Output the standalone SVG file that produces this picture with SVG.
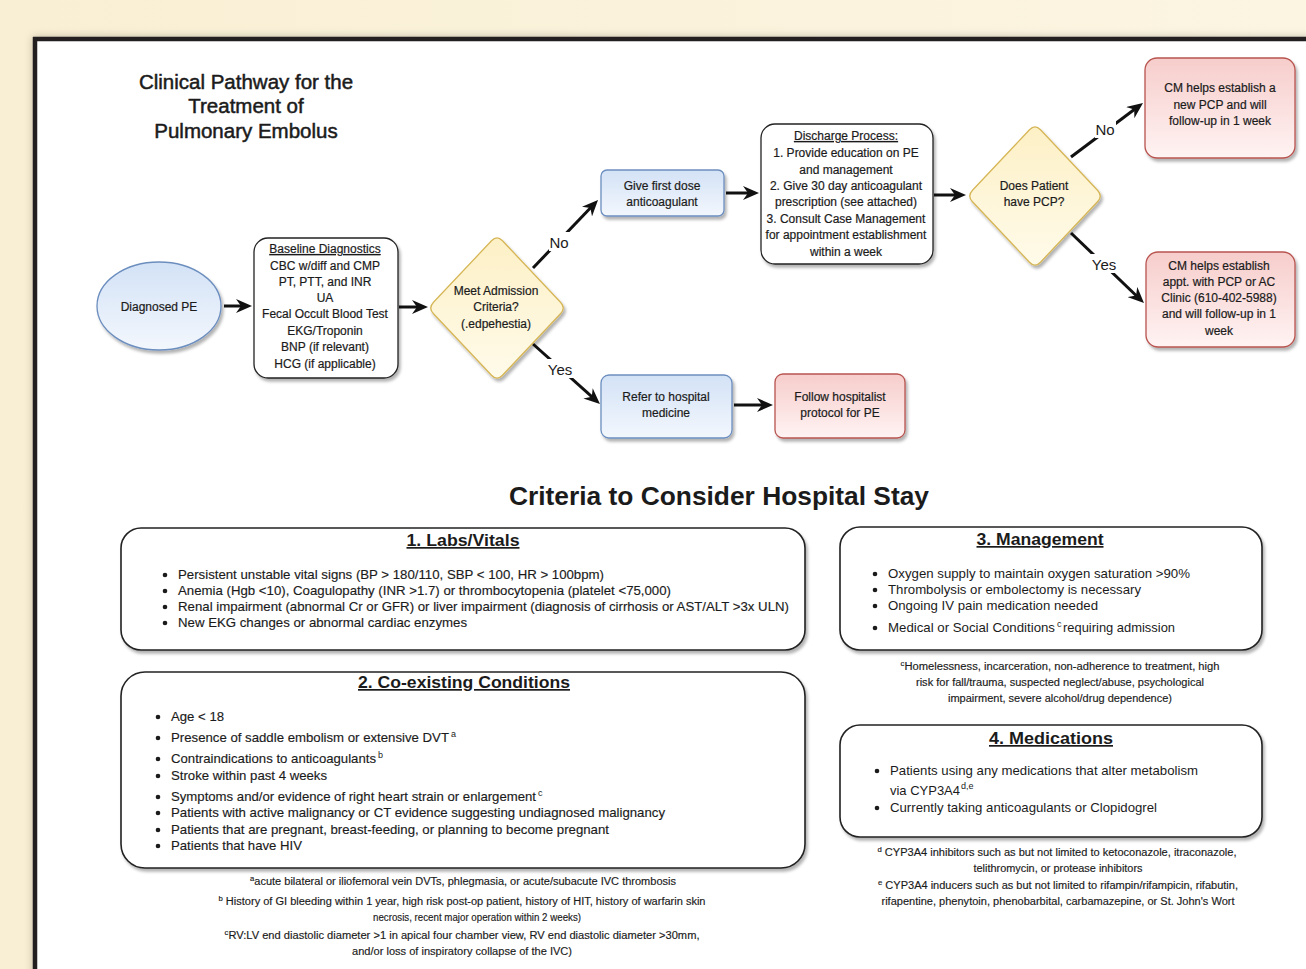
<svg xmlns="http://www.w3.org/2000/svg" width="1306" height="969" viewBox="0 0 1306 969">
<defs>
<style>
.t{font-family:"Liberation Sans",Arial,sans-serif;fill:#1b1b1b}
.f12{font-size:12px;text-anchor:middle;stroke:#1b1b1b;stroke-width:0.2}
.lbl{font-size:15px;text-anchor:middle}
.bl{font-size:13px;stroke:#1b1b1b;stroke-width:0.15}
.bl3{font-size:13.5px}
.sup{font-size:9px}
.fn{font-size:10px;text-anchor:middle;stroke:#1b1b1b;stroke-width:0.15}
.ttl{font-size:17px;font-weight:bold;text-anchor:middle;text-decoration:underline}
.conn{stroke:#111;stroke-width:3;fill:none;marker-end:url(#ah)}
.card{fill:#fff;stroke:#222;stroke-width:1.6;filter:url(#sh)}
.blue{fill:url(#gb);stroke:#6c8ebf;stroke-width:1.3;filter:url(#sh)}
.red{fill:url(#gr);stroke:#b85450;stroke-width:1.3;filter:url(#sh)}
.yel{fill:url(#gy);stroke:#d6b656;stroke-width:1.3;filter:url(#sh)}
.wb{fill:#fff;stroke:#222;stroke-width:1.3;filter:url(#sh)}
.dot{fill:#1b1b1b}
</style>
<marker id="ah" viewBox="0 0 16 14" refX="8" refY="7" markerWidth="16" markerHeight="14" markerUnits="userSpaceOnUse" orient="auto">
<path d="M0,0 L16,7 L0,14 L5,7 z" fill="#111"/>
</marker>
<linearGradient id="gb" x1="0" y1="0" x2="0" y2="1"><stop offset="0" stop-color="#d3e2f6"/><stop offset="1" stop-color="#f3f7fd"/></linearGradient>
<linearGradient id="gr" x1="0" y1="0" x2="0" y2="1"><stop offset="0" stop-color="#f6cdcb"/><stop offset="1" stop-color="#fff3f3"/></linearGradient>
<linearGradient id="gy" x1="0" y1="0" x2="0" y2="1"><stop offset="0" stop-color="#fdf0c6"/><stop offset="1" stop-color="#fffbea"/></linearGradient>
<linearGradient id="gbg" x1="0" y1="0" x2="1" y2="0"><stop offset="0" stop-color="#f9efd4"/><stop offset="1" stop-color="#fcf5e2"/></linearGradient>
<filter id="sh" x="-10%" y="-10%" width="130%" height="130%"><feDropShadow dx="2" dy="3" stdDeviation="1.5" flood-color="#000" flood-opacity="0.3"/></filter>
<filter id="psh" x="-5%" y="-5%" width="110%" height="110%"><feDropShadow dx="-2" dy="-2" stdDeviation="4" flood-color="#000" flood-opacity="0.25"/></filter>
</defs>

<rect x="0" y="0" width="1306" height="969" fill="url(#gbg)"/>
<g id="page">
<rect x="35" y="39" width="1290" height="950" fill="#fff" filter="url(#psh)"/>
<line x1="33" y1="39" x2="1306" y2="39" stroke="#231f20" stroke-width="4.5"/>
<line x1="35" y1="37" x2="35" y2="969" stroke="#231f20" stroke-width="4.5"/>
</g>

<g id="title">
<text class="t" x="246" y="89" font-size="20.5" text-anchor="middle" stroke="#1b1b1b" stroke-width="0.5">Clinical Pathway for the</text>
<text class="t" x="246" y="113" font-size="20.5" text-anchor="middle" stroke="#1b1b1b" stroke-width="0.5">Treatment of</text>
<text class="t" x="246" y="138" font-size="20.5" text-anchor="middle" stroke="#1b1b1b" stroke-width="0.5">Pulmonary Embolus</text>
</g>

<g id="connectors">
<line class="conn" x1="224" y1="306" x2="244" y2="306"/>
<line class="conn" x1="399" y1="307" x2="420" y2="307"/>
<line class="conn" x1="726" y1="193" x2="751" y2="193"/>
<line class="conn" x1="934" y1="195" x2="958" y2="195"/>
<line class="conn" x1="734" y1="405" x2="765" y2="405"/>
<line class="conn" x1="533" y1="268" x2="592.5" y2="205.8"/>
<line class="conn" x1="533" y1="344" x2="594" y2="398.7"/>
<line class="conn" x1="1071" y1="157" x2="1136.6" y2="107.8"/>
<line class="conn" x1="1071" y1="233" x2="1138.2" y2="297.5"/>
<rect x="549" y="232" width="21" height="19" fill="#fff"/>
<text class="t lbl" x="559" y="248">No</text>
<rect x="547" y="359" width="28" height="19" fill="#fff"/>
<text class="t lbl" x="560" y="375">Yes</text>
<rect x="1095" y="119" width="21" height="19" fill="#fff"/>
<text class="t lbl" x="1105" y="135">No</text>
<rect x="1090" y="254" width="28" height="19" fill="#fff"/>
<text class="t lbl" x="1104" y="270">Yes</text>
</g>

<g id="diagnosed-pe">
<ellipse class="blue" cx="159" cy="306" rx="62" ry="44"/>
<text class="t f12" x="159" y="311" font-size="13">Diagnosed PE</text>
</g>

<g id="baseline-diagnostics">
<rect class="wb" x="254" y="238" width="144" height="140" rx="14"/>
<text class="t f12" x="325" y="253" text-decoration="underline">Baseline Diagnostics</text>
<text class="t f12" x="325" y="270">CBC w/diff and CMP</text>
<text class="t f12" x="325" y="286">PT, PTT, and INR</text>
<text class="t f12" x="325" y="302">UA</text>
<text class="t f12" x="325" y="318">Fecal Occult Blood Test</text>
<text class="t f12" x="325" y="335">EKG/Troponin</text>
<text class="t f12" x="325" y="351">BNP (if relevant)</text>
<text class="t f12" x="325" y="368">HCG (if applicable)</text>
</g>

<g id="admission-decision">
<path class="yel" d="M491.5,240.8 Q497,235 502.5,240.8 L560.5,302.2 Q566,308 560.5,313.8 L502.5,375.2 Q497,381 491.5,375.2 L433.5,313.8 Q428,308 433.5,302.2 Z"/>
<text class="t f12" x="496" y="295">Meet Admission</text>
<text class="t f12" x="496" y="311">Criteria?</text>
<text class="t f12" x="496" y="328">(.edpehestia)</text>
</g>

<g id="first-dose">
<rect class="blue" x="601" y="170" width="123" height="46" rx="6"/>
<text class="t f12" x="662" y="190">Give first dose</text>
<text class="t f12" x="662" y="206">anticoagulant</text>
</g>

<g id="discharge-process">
<rect class="wb" x="761" y="124" width="172" height="140" rx="14"/>
<text class="t f12" x="846" y="140" text-decoration="underline">Discharge Process:</text>
<text class="t f12" x="846" y="157">1. Provide education on PE</text>
<text class="t f12" x="846" y="174">and management</text>
<text class="t f12" x="846" y="190">2. Give 30 day anticoagulant</text>
<text class="t f12" x="846" y="206">prescription (see attached)</text>
<text class="t f12" x="846" y="223">3. Consult Case Management</text>
<text class="t f12" x="846" y="239">for appointment establishment</text>
<text class="t f12" x="846" y="256">within a week</text>
</g>

<g id="pcp-decision">
<path class="yel" d="M1029.5,129.8 Q1035,124 1040.5,129.8 L1097.5,190.2 Q1103,196 1097.5,201.8 L1040.5,262.2 Q1035,268 1029.5,262.2 L972.5,201.8 Q967,196 972.5,190.2 Z"/>
<text class="t f12" x="1034" y="190">Does Patient</text>
<text class="t f12" x="1034" y="206">have PCP?</text>
</g>

<g id="new-pcp">
<rect class="red" x="1145" y="58" width="150" height="100" rx="12"/>
<text class="t f12" x="1220" y="92">CM helps establish a</text>
<text class="t f12" x="1220" y="109">new PCP and will</text>
<text class="t f12" x="1220" y="125">follow-up in 1 week</text>
</g>

<g id="appt-pcp">
<rect class="red" x="1146" y="252" width="149" height="95" rx="12"/>
<text class="t f12" x="1219" y="270">CM helps establish</text>
<text class="t f12" x="1219" y="286">appt. with PCP or AC</text>
<text class="t f12" x="1219" y="302">Clinic (610-402-5988)</text>
<text class="t f12" x="1219" y="318">and will follow-up in 1</text>
<text class="t f12" x="1219" y="335">week</text>
</g>

<g id="refer-hospital">
<rect class="blue" x="601" y="375" width="131" height="63" rx="8"/>
<text class="t f12" x="666" y="401">Refer to hospital</text>
<text class="t f12" x="666" y="417">medicine</text>
</g>

<g id="follow-protocol">
<rect class="red" x="775" y="374" width="130" height="64" rx="8"/>
<text class="t f12" x="840" y="401">Follow hospitalist</text>
<text class="t f12" x="840" y="417">protocol for PE</text>
</g>

<g id="criteria-header">
<line x1="97" y1="511" x2="1306" y2="511" stroke="#333" stroke-width="2" filter="url(#sh)"/>
<text class="t" x="509" y="505" font-size="26" font-weight="bold" textLength="420" lengthAdjust="spacingAndGlyphs">Criteria to Consider Hospital Stay</text>
</g>

<g id="labs-vitals">
<rect class="card" x="121" y="528" width="684" height="122" rx="20"/>
<text class="t ttl" x="463" y="546" textLength="113" lengthAdjust="spacingAndGlyphs">1. Labs/Vitals</text>
<circle class="dot" cx="165" cy="575" r="2.3"/><text class="t bl" x="178" y="579" textLength="426" lengthAdjust="spacingAndGlyphs">Persistent unstable vital signs (BP &gt; 180/110, SBP &lt; 100, HR &gt; 100bpm)</text>
<circle class="dot" cx="165" cy="591" r="2.3"/><text class="t bl" x="178" y="595" textLength="493" lengthAdjust="spacingAndGlyphs">Anemia (Hgb &lt;10), Coagulopathy (INR &gt;1.7) or thrombocytopenia (platelet &lt;75,000)</text>
<circle class="dot" cx="165" cy="607" r="2.3"/><text class="t bl" x="178" y="611" textLength="611" lengthAdjust="spacingAndGlyphs">Renal impairment (abnormal Cr or GFR) or liver impairment (diagnosis of cirrhosis or AST/ALT &gt;3x ULN)</text>
<circle class="dot" cx="165" cy="623" r="2.3"/><text class="t bl" x="178" y="627" textLength="289" lengthAdjust="spacingAndGlyphs">New EKG changes or abnormal cardiac enzymes</text>
</g>

<g id="coexisting-conditions">
<rect class="card" x="121" y="672" width="684" height="196" rx="24"/>
<text class="t ttl" x="464" y="688" textLength="212" lengthAdjust="spacingAndGlyphs">2. Co-existing Conditions</text>
<circle class="dot" cx="158" cy="717" r="2.3"/><text class="t bl" x="171" y="721" textLength="53" lengthAdjust="spacingAndGlyphs">Age &lt; 18</text>
<circle class="dot" cx="158" cy="738" r="2.3"/><text class="t bl" x="171" y="742" textLength="278" lengthAdjust="spacingAndGlyphs">Presence of saddle embolism or extensive DVT</text><text class="t sup" x="451" y="737">a</text>
<circle class="dot" cx="158" cy="759" r="2.3"/><text class="t bl" x="171" y="763" textLength="205" lengthAdjust="spacingAndGlyphs">Contraindications to anticoagulants</text><text class="t sup" x="378" y="758">b</text>
<circle class="dot" cx="158" cy="776" r="2.3"/><text class="t bl" x="171" y="780" textLength="156" lengthAdjust="spacingAndGlyphs">Stroke within past 4 weeks</text>
<circle class="dot" cx="158" cy="797" r="2.3"/><text class="t bl" x="171" y="801" textLength="365" lengthAdjust="spacingAndGlyphs">Symptoms and/or evidence of right heart strain or enlargement</text><text class="t sup" x="538" y="796">c</text>
<circle class="dot" cx="158" cy="813" r="2.3"/><text class="t bl" x="171" y="817" textLength="494" lengthAdjust="spacingAndGlyphs">Patients with active malignancy or CT evidence suggesting undiagnosed malignancy</text>
<circle class="dot" cx="158" cy="830" r="2.3"/><text class="t bl" x="171" y="834" textLength="438" lengthAdjust="spacingAndGlyphs">Patients that are pregnant, breast-feeding, or planning to become pregnant</text>
<circle class="dot" cx="158" cy="846" r="2.3"/><text class="t bl" x="171" y="850" textLength="131" lengthAdjust="spacingAndGlyphs">Patients that have HIV</text>
</g>

<g id="footnotes-abc">
<text class="t fn" x="463" y="885" textLength="426" lengthAdjust="spacingAndGlyphs"><tspan font-size="7" dy="-4">a</tspan><tspan dy="4">acute bilateral or iliofemoral vein DVTs, phlegmasia, or acute/subacute IVC thrombosis</tspan></text>
<text class="t fn" x="462" y="905" textLength="487" lengthAdjust="spacingAndGlyphs"><tspan font-size="7" dy="-4">b</tspan><tspan dy="4"> History of GI bleeding within 1 year, high risk post-op patient, history of HIT, history of warfarin skin</tspan></text>
<text class="t fn" x="477" y="921" textLength="208" lengthAdjust="spacingAndGlyphs">necrosis, recent major operation within 2 weeks)</text>
<text class="t fn" x="462" y="939" textLength="475" lengthAdjust="spacingAndGlyphs"><tspan font-size="7" dy="-4">c</tspan><tspan dy="4">RV:LV end diastolic diameter &gt;1 in apical four chamber view, RV end diastolic diameter &gt;30mm,</tspan></text>
<text class="t fn" x="462" y="955" textLength="220" lengthAdjust="spacingAndGlyphs">and/or loss of inspiratory collapse of the IVC)</text>
</g>

<g id="management">
<rect class="card" x="840" y="527" width="422" height="123" rx="20"/>
<text class="t ttl" x="1040" y="545" textLength="127" lengthAdjust="spacingAndGlyphs">3. Management</text>
<circle class="dot" cx="875" cy="574" r="2.3"/><text class="t bl3" x="888" y="578" textLength="302" lengthAdjust="spacingAndGlyphs">Oxygen supply to maintain oxygen saturation &gt;90%</text>
<circle class="dot" cx="875" cy="590" r="2.3"/><text class="t bl3" x="888" y="594" textLength="253" lengthAdjust="spacingAndGlyphs">Thrombolysis or embolectomy is necessary</text>
<circle class="dot" cx="875" cy="606" r="2.3"/><text class="t bl3" x="888" y="610" textLength="210" lengthAdjust="spacingAndGlyphs">Ongoing IV pain medication needed</text>
<circle class="dot" cx="875" cy="628" r="2.3"/><text class="t bl3" x="888" y="632" textLength="167" lengthAdjust="spacingAndGlyphs">Medical or Social Conditions</text><text class="t sup" x="1057" y="627">c</text><text class="t bl3" x="1063" y="632" textLength="112" lengthAdjust="spacingAndGlyphs">requiring admission</text>
<text class="t fn" x="1060" y="670" textLength="319" lengthAdjust="spacingAndGlyphs"><tspan font-size="7" dy="-4">c</tspan><tspan dy="4">Homelessness, incarceration, non-adherence to treatment, high</tspan></text>
<text class="t fn" x="1060" y="686" textLength="288" lengthAdjust="spacingAndGlyphs">risk for fall/trauma, suspected neglect/abuse, psychological</text>
<text class="t fn" x="1060" y="702" textLength="224" lengthAdjust="spacingAndGlyphs">impairment, severe alcohol/drug dependence)</text>
</g>

<g id="medications">
<rect class="card" x="840" y="725" width="422" height="112" rx="20"/>
<text class="t ttl" x="1051" y="744" textLength="124" lengthAdjust="spacingAndGlyphs">4. Medications</text>
<circle class="dot" cx="877" cy="771" r="2.3"/><text class="t bl3" x="890" y="775" textLength="308" lengthAdjust="spacingAndGlyphs">Patients using any medications that alter metabolism</text>
<text class="t bl3" x="890" y="795" textLength="70" lengthAdjust="spacingAndGlyphs">via CYP3A4</text><text class="t sup" x="961" y="789">d,e</text>
<circle class="dot" cx="877" cy="808" r="2.3"/><text class="t bl3" x="890" y="812" textLength="267" lengthAdjust="spacingAndGlyphs">Currently taking anticoagulants or Clopidogrel</text>
<text class="t fn" x="1057" y="856" textLength="359" lengthAdjust="spacingAndGlyphs"><tspan font-size="7" dy="-4">d</tspan><tspan dy="4"> CYP3A4 inhibitors such as but not limited to ketoconazole, itraconazole,</tspan></text>
<text class="t fn" x="1058" y="872" textLength="169" lengthAdjust="spacingAndGlyphs">telithromycin, or protease inhibitors</text>
<text class="t fn" x="1058" y="889" textLength="360" lengthAdjust="spacingAndGlyphs"><tspan font-size="7" dy="-4">e</tspan><tspan dy="4"> CYP3A4 inducers such as but not limited to rifampin/rifampicin, rifabutin,</tspan></text>
<text class="t fn" x="1058" y="905" textLength="353" lengthAdjust="spacingAndGlyphs">rifapentine, phenytoin, phenobarbital, carbamazepine, or St. John's Wort</text>
</g>
</svg>
